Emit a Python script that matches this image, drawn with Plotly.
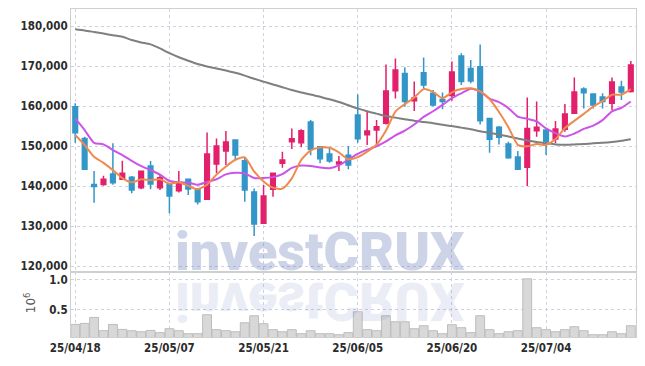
import plotly.graph_objects as go
from plotly.subplots import make_subplots
import pandas as pd

dates = ["25/04/18", "25/04/21", "25/04/22", "25/04/23", "25/04/24", "25/04/25", "25/04/28", "25/04/29",
         "25/04/30", "25/05/02", "25/05/07", "25/05/08", "25/05/09", "25/05/12", "25/05/13", "25/05/14",
         "25/05/15", "25/05/16", "25/05/19", "25/05/20", "25/05/21", "25/05/22", "25/05/23", "25/05/26",
         "25/05/27", "25/05/28", "25/05/29", "25/05/30", "25/06/02", "25/06/04", "25/06/05", "25/06/09",
         "25/06/10", "25/06/11", "25/06/12", "25/06/13", "25/06/16", "25/06/17", "25/06/18", "25/06/19",
         "25/06/20", "25/06/23", "25/06/24", "25/06/25", "25/06/26", "25/06/27", "25/06/30", "25/07/01",
         "25/07/02", "25/07/03", "25/07/04", "25/07/07", "25/07/08", "25/07/09", "25/07/10", "25/07/11",
         "25/07/14", "25/07/15", "25/07/16", "25/07/17"]

open_ = [159800, 151900, 140400, 140400, 143000, 141700, 142200, 139600, 145000, 139600,
         140500, 138800, 141700, 139300, 136700, 145500, 148750, 151500, 146300, 138500,
         130700, 139200, 145700, 151100, 150800, 156000, 149800, 148000, 145500, 147700,
         157750, 152800, 154000, 155700, 163800, 168100, 161300, 168300, 163200, 161600,
         162600, 172500, 169400, 169800, 156900, 154700, 150500, 147250, 144700, 153800,
         154000, 151750, 154200, 158200, 164250, 163000, 162250, 160700, 164750, 163600]
high = [160700, 152300, 143750, 142600, 150700, 146300, 142500, 143900, 146250, 142750,
        140700, 143750, 141900, 139500, 153400, 151900, 153750, 151600, 147300, 139400,
        140250, 143400, 148600, 154400, 154200, 156500, 149900, 149700, 147500, 150000,
        162900, 158600, 156500, 170400, 171900, 169700, 166100, 172100, 164000, 163400,
        171100, 173200, 171500, 175400, 157000, 155000, 151100, 148750, 162100, 161100,
        154200, 156250, 160500, 167100, 164700, 163200, 163200, 167100, 166300, 171250]
low = [150800, 144000, 135800, 140100, 140300, 141500, 138200, 139200, 139200, 139000,
       133200, 138400, 137750, 135400, 136500, 143200, 145250, 146500, 136100, 127500,
       130500, 137300, 144600, 149250, 149700, 147700, 145700, 145800, 143750, 144200,
       150800, 150250, 150250, 155400, 161900, 159800, 158750, 164400, 159900, 159200,
       161300, 165250, 165700, 155400, 148300, 150400, 146800, 144000, 140000, 152300,
       147750, 150700, 153600, 158000, 159400, 159400, 159400, 159000, 161500, 163400]
close = [153300, 144200, 139900, 141700, 140800, 143200, 139000, 143700, 140500, 142100,
         137500, 140900, 139250, 136100, 148000, 150000, 151000, 147750, 139000, 130500,
         137500, 143200, 146500, 151800, 153800, 149200, 146800, 146250, 146000, 145250,
         151800, 153750, 154800, 163750, 169000, 161100, 162000, 165250, 160250, 161100,
         168500, 166100, 166250, 156300, 151700, 152200, 147100, 144200, 154400, 154700,
         151100, 154250, 158000, 163500, 163300, 160250, 161100, 166000, 163500, 170250]
volume = [255000, 272000, 372000, 150000, 255000, 172000, 150000, 133000, 155000, 117000,
          183000, 150000, 100000, 100000, 417000, 167000, 150000, 133000, 283000, 400000,
          267000, 167000, 133000, 167000, 100000, 150000, 100000, 100000, 83000, 117000,
          467000, 167000, 150000, 400000, 300000, 300000, 183000, 233000, 150000, 100000,
          250000, 200000, 117000, 400000, 167000, 100000, 133000, 150000, 1017000, 200000,
          167000, 133000, 167000, 217000, 150000, 83000, 83000, 133000, 100000, 233000]

# moving-average values before enough in-window closes exist
ma5_head = [152750, 150250, 147300, 145800]
ma10_head = [156900, 154000, 150800, 150400, 149000, 147750, 146300, 145000, 144000]
ma_long = [179200, 178900, 178500, 178100, 177700, 177300, 176500, 175900, 175400, 174400,
           173200, 172200, 171300, 170500, 169900, 169400, 168900, 168300, 167600, 166800,
           166100, 165400, 164700, 164000, 163400, 162900, 162300, 161700, 161000, 160200,
           159400, 158700, 158100, 157500, 157100, 156700, 156300, 156000, 155700, 155300,
           155000, 154600, 154200, 153700, 153300, 152900, 152400, 151900, 151400, 151000,
           150700, 150400, 150300, 150400, 150500, 150700, 150800, 151000, 151300, 151700]

price_ticks = [120000, 130000, 140000, 150000, 160000, 170000, 180000]
vol_ticks = [0.5, 1.0]
date_ticks = [dates[i] for i in range(0, len(dates), 10)]

cs = pd.Series(close, dtype=float)
ma5 = cs.rolling(5).mean()
ma5.iloc[:len(ma5_head)] = ma5_head
ma10 = cs.rolling(10).mean()
ma10.iloc[:len(ma10_head)] = ma10_head

UP = "#e2206b"
DOWN = "#3396c8"
GRID = "#cdd1e2"
FRAME = "#cfcfcf"
TICKFONT = dict(family="DejaVu Sans Condensed, Liberation Sans Narrow, sans-serif", size=11.5,
                color="#2b2b2b", weight="bold")

fig = make_subplots(rows=2, cols=1, shared_xaxes=True, vertical_spacing=0, row_heights=[0.802, 0.198])

fig.add_trace(go.Candlestick(
    x=dates, open=open_, high=high, low=low, close=close,
    increasing=dict(line=dict(color=UP, width=1.5), fillcolor=UP),
    decreasing=dict(line=dict(color=DOWN, width=1.5), fillcolor=DOWN),
    showlegend=False, hoverinfo="skip"), row=1, col=1)

fig.add_trace(go.Scatter(x=dates, y=ma_long, mode="lines",
                         line=dict(color="#7f7f7f", width=2, shape="spline", smoothing=0.6),
                         showlegend=False), row=1, col=1)
fig.add_trace(go.Scatter(x=dates, y=ma10, mode="lines",
                         line=dict(color="#cc55e8", width=2, shape="spline", smoothing=0.6),
                         showlegend=False), row=1, col=1)
fig.add_trace(go.Scatter(x=dates, y=ma5, mode="lines",
                         line=dict(color="#ef8a4e", width=2, shape="spline", smoothing=0.6),
                         showlegend=False), row=1, col=1)

fig.add_trace(go.Bar(x=dates, y=[v / 1e6 for v in volume],
                     marker=dict(color="#d8d8d8", line=dict(color="#bdbdbd", width=1)),
                     showlegend=False), row=2, col=1)

fig.update_layout(
    width=645, height=366,
    margin=dict(l=71, r=9, t=9, b=29),
    paper_bgcolor="white", plot_bgcolor="white",
    bargap=0.06, showlegend=False,
)

xcommon = dict(type="category", categoryorder="array", categoryarray=dates,
               range=[-0.45, 59.55], showgrid=True, gridcolor=GRID, griddash="dot", gridwidth=1,
               tickvals=date_ticks, ticktext=date_ticks, showline=True, mirror=True,
               linecolor=FRAME, linewidth=1, ticks="", zeroline=False, tickfont=TICKFONT)
fig.update_xaxes(**xcommon)
fig.update_xaxes(rangeslider_visible=False, showticklabels=False, row=1, col=1)
fig.update_xaxes(showticklabels=True, row=2, col=1)

fig.update_yaxes(range=[118500, 184250], tickvals=price_ticks, tickformat=",",
                 showgrid=True, gridcolor=GRID, griddash="dot", showline=True, mirror=True,
                 linecolor=FRAME, ticks="", zeroline=False, tickfont=TICKFONT, row=1, col=1)
fig.update_yaxes(range=[0.045, 1.13], tickvals=vol_ticks, ticktext=["0.5", "1.0"],
                 showgrid=True, gridcolor=GRID, griddash="dot", showline=True, mirror=True,
                 linecolor=FRAME, ticks="", zeroline=False, tickfont=TICKFONT, row=2, col=1)

# watermark and its reflection (reflection flipped vertically in the page script)
fig.add_annotation(text="investCRUX", xref="paper", yref="paper", x=0.441, y=0.262,
                   xanchor="center", yanchor="middle", showarrow=False,
                   font=dict(family="Roboto, sans-serif", size=54, color="rgba(110,128,188,0.34)", weight=900))
fig.add_annotation(text="investCRUX", xref="paper", yref="paper", x=0.441, y=0.1067,
                   xanchor="center", yanchor="middle", showarrow=False,
                   font=dict(family="Roboto, sans-serif", size=54, color="rgba(130,140,200,0.17)", weight=900))
fig.add_annotation(text="10<sup>6</sup>", xref="paper", yref="paper", x=-0.072, y=0.104,
                   xanchor="center", yanchor="middle", showarrow=False, textangle=-90,
                   font=dict(family="DejaVu Sans, sans-serif", size=12, color="#555555"))

post = """
document.body.style.margin = '0';
document.body.style.padding = '0';
var gd = document.getElementById('{plot_id}');
function flipWM(){
  var anns = gd.querySelectorAll('g.annotation');
  anns.forEach(function(a){
    if (a.getAttribute('data-index') === '1') {
      a.setAttribute('transform', 'translate(0,604) scale(1,-1)');
    }
  });
}
flipWM();
gd.on('plotly_afterplot', flipWM);
"""

fig.write_html("out.html", post_script=post, config={"displayModeBar": False})
